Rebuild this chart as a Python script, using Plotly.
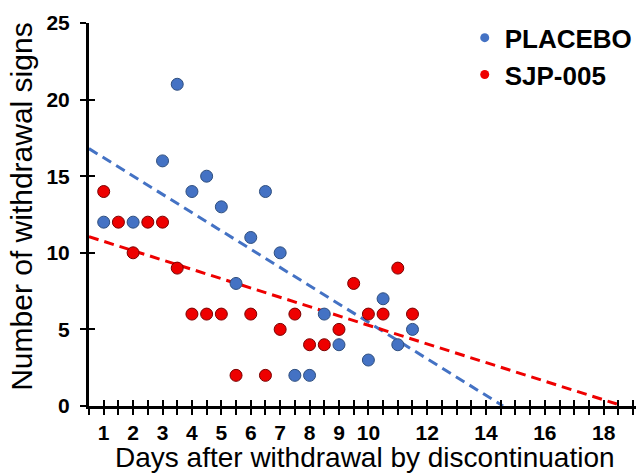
import plotly.graph_objects as go

# ---- data ----
placebo_days = [1, 2, 3, 3.5, 4, 4.5, 5, 5.5, 6, 6.5, 7, 7.5, 8, 8.5, 9, 10, 10.5, 11, 11.5]
placebo_signs = [12, 12, 16, 21, 14, 15, 13, 8, 11, 14, 10, 2, 2, 6, 4, 3, 7, 4, 5]

sjp_days = [1, 1.5, 2, 2.5, 3, 3.5, 4, 4.5, 5, 5.5, 6, 6.5, 7, 7.5, 8, 8.5, 9, 9.5, 10, 10.5, 11, 11.5]
sjp_signs = [14, 12, 10, 12, 12, 9, 6, 6, 6, 2, 6, 2, 5, 6, 4, 4, 5, 8, 6, 6, 9, 6]

# linear trend lines (end points)
placebo_trend_x = [0.5, 14.58]
placebo_trend_y = [16.8, 0.0]
sjp_trend_x = [0.5, 18.45]
sjp_trend_y = [11.05, 0.13]

x_tick_vals = [v / 2 for v in range(1, 39)]  # every half day
x_tick_labels = {1: "1", 2: "2", 3: "3", 4: "4", 5: "5", 6: "6", 7: "7", 8: "8",
                 9: "9", 10: "10", 12: "12", 14: "14", 16: "16", 18: "18"}
y_tick_vals = [0, 5, 10, 15, 20, 25]

x_title = "Days after withdrawal by discontinuation"
y_title = "Number of withdrawal signs"

BLUE = "#4472C4"
RED = "#EE0000"
XR = [0.5, 19.1]
YR = [0, 25]
FAM = "Liberation Sans, Arial"

ticktext = [x_tick_labels.get(int(v), "") if float(v).is_integer() else "" for v in x_tick_vals]

fig = go.Figure()

fig.add_trace(go.Scatter(x=placebo_trend_x, y=placebo_trend_y, mode="lines",
                         line=dict(color=BLUE, width=3, dash="10px,6px"),
                         showlegend=False, hoverinfo="skip"))
fig.add_trace(go.Scatter(x=sjp_trend_x, y=sjp_trend_y, mode="lines",
                         line=dict(color=RED, width=3, dash="10px,6px"),
                         showlegend=False, hoverinfo="skip"))

fig.add_trace(go.Scatter(x=placebo_days, y=placebo_signs, mode="markers",
                         marker=dict(color=BLUE, size=12, line=dict(color="#2F4F7F", width=1)),
                         showlegend=False))
fig.add_trace(go.Scatter(x=sjp_days, y=sjp_signs, mode="markers",
                         marker=dict(color=RED, size=12, line=dict(color="#7A0000", width=1)),
                         showlegend=False))

# legend-only entries (smaller markers like reference)
fig.add_trace(go.Scatter(x=[None], y=[None], mode="markers", name="PLACEBO",
                         marker=dict(color=BLUE, size=9), legendgroup="a"))
fig.add_trace(go.Scatter(x=[None], y=[None], mode="markers", name="SJP-005",
                         marker=dict(color=RED, size=9), legendgroup="b"))

# invisible trace on overlay axes (for crossing ticks)
fig.add_trace(go.Scatter(x=[None], y=[None], xaxis="x2", yaxis="y2", showlegend=False))

tickfont = dict(family=FAM, size=21, color="black", weight="bold")
xtitlefont = dict(family=FAM, size=28, color="black")
ytitlefont = dict(family=FAM, size=30, color="black")

fig.update_layout(
    width=641, height=475,
    margin=dict(l=89, r=5, t=23, b=69, autoexpand=False),
    paper_bgcolor="white", plot_bgcolor="white",
    showlegend=True,
    legend=dict(xref="container", yref="container", x=0.725, y=0.97,
                xanchor="left", yanchor="top",
                font=dict(family=FAM, size=26, color="black", weight="bold"),
                bgcolor="rgba(0,0,0,0)", tracegroupgap=0, itemwidth=30),
    xaxis=dict(range=XR, showgrid=False, zeroline=False, automargin=False,
               showline=True, linecolor="black", linewidth=3,
               tickmode="array", tickvals=x_tick_vals, ticktext=ticktext,
               ticks="outside", ticklen=6, tickwidth=2, tickcolor="black",
               tickfont=tickfont),
    xaxis2=dict(range=XR, overlaying="x", anchor="y", side="bottom",
                showgrid=False, zeroline=False, showline=False,
                tickmode="array", tickvals=x_tick_vals,
                ticks="inside", ticklen=6, tickwidth=2, tickcolor="black",
                showticklabels=False),
    yaxis=dict(range=YR, showgrid=False, zeroline=False, automargin=False,
               showline=True, linecolor="black", linewidth=3,
               tickmode="array", tickvals=y_tick_vals,
               ticks="outside", ticklen=6, tickwidth=2, tickcolor="black",
               tickfont=tickfont, ticklabelstandoff=6),
    yaxis2=dict(range=YR, overlaying="y", anchor="x", side="left",
                showgrid=False, zeroline=False, showline=False,
                tickmode="array", tickvals=y_tick_vals,
                ticks="inside", ticklen=6, tickwidth=2, tickcolor="black",
                showticklabels=False),
    annotations=[
        dict(text=x_title, xref="paper", yref="paper", x=0.505, y=-0.1345,
             xanchor="center", yanchor="middle", showarrow=False, font=xtitlefont),
        dict(text=y_title, xref="paper", yref="paper", x=-0.1225, y=0.52,
             xanchor="center", yanchor="middle", showarrow=False, font=ytitlefont,
             textangle=-90),
    ],
)

fig.write_html("out.html", config={"displayModeBar": False},
               post_script="document.body.style.margin='0';document.body.style.overflow='hidden';")
